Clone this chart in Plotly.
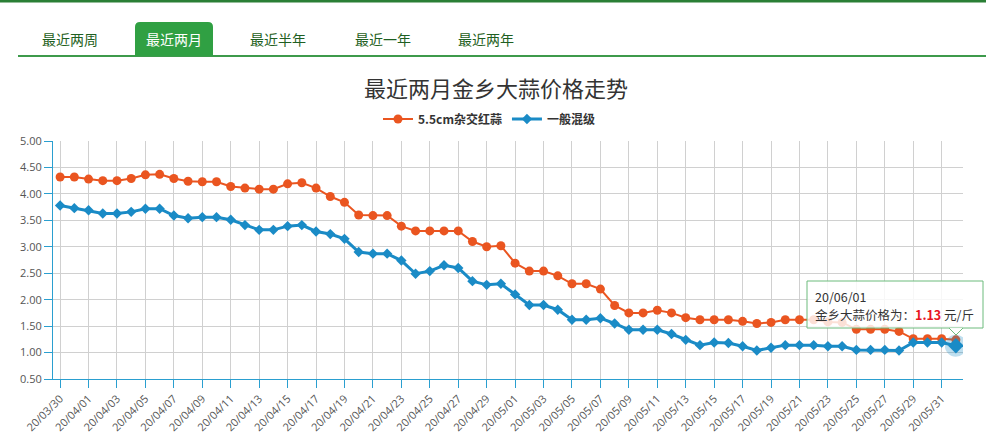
import plotly.graph_objects as go

dates = [
    "20/03/30", "20/03/31", "20/04/01", "20/04/02", "20/04/03", "20/04/04", "20/04/05", "20/04/06",
    "20/04/07", "20/04/08", "20/04/09", "20/04/10", "20/04/11", "20/04/12", "20/04/13", "20/04/14",
    "20/04/15", "20/04/16", "20/04/17", "20/04/18", "20/04/19", "20/04/20", "20/04/21", "20/04/22",
    "20/04/23", "20/04/24", "20/04/25", "20/04/26", "20/04/27", "20/04/28", "20/04/29", "20/04/30",
    "20/05/01", "20/05/02", "20/05/03", "20/05/04", "20/05/05", "20/05/06", "20/05/07", "20/05/08",
    "20/05/09", "20/05/10", "20/05/11", "20/05/12", "20/05/13", "20/05/14", "20/05/15", "20/05/16",
    "20/05/17", "20/05/18", "20/05/19", "20/05/20", "20/05/21", "20/05/22", "20/05/23", "20/05/24",
    "20/05/25", "20/05/26", "20/05/27", "20/05/28", "20/05/29", "20/05/30", "20/05/31", "20/06/01",
]

red_garlic = [
    4.32, 4.32, 4.28, 4.25, 4.25, 4.29, 4.36, 4.37, 4.29, 4.24,
    4.23, 4.23, 4.14, 4.11, 4.09, 4.09, 4.19, 4.21, 4.11, 3.95,
    3.84, 3.60, 3.59, 3.59, 3.39, 3.30, 3.30, 3.30, 3.30, 3.10,
    3.00, 3.02, 2.69, 2.54, 2.54, 2.45, 2.30, 2.30, 2.20, 1.89,
    1.75, 1.75, 1.80, 1.75, 1.66, 1.62, 1.62, 1.62, 1.59, 1.55,
    1.57, 1.62, 1.62, 1.62, 1.58, 1.57, 1.44, 1.44, 1.44, 1.40,
    1.26, 1.26, 1.26, 1.24,
]

mixed_grade = [
    3.78, 3.73, 3.69, 3.63, 3.63, 3.66, 3.72, 3.72, 3.59, 3.54,
    3.56, 3.56, 3.51, 3.41, 3.32, 3.32, 3.39, 3.41, 3.29, 3.24,
    3.15, 2.90, 2.87, 2.87, 2.74, 2.49, 2.54, 2.65, 2.60, 2.35,
    2.28, 2.30, 2.10, 1.90, 1.90, 1.81, 1.62, 1.62, 1.65, 1.55,
    1.43, 1.43, 1.43, 1.35, 1.24, 1.14, 1.19, 1.18, 1.12, 1.04,
    1.09, 1.14, 1.14, 1.14, 1.12, 1.12, 1.05, 1.05, 1.05, 1.04,
    1.19, 1.19, 1.19, 1.13,
]

series_names = ["5.5cm杂交红蒜", "一般混级"]
tabs = ["最近两周", "最近两月", "最近半年", "最近一年", "最近两年"]
title_text = "最近两月金乡大蒜价格走势"
y_ticks = [0.5, 1.0, 1.5, 2.0, 2.5, 3.0, 3.5, 4.0, 4.5, 5.0]

ORANGE = "#ea5520"
BLUE = "#1a8bc6"
FONT = "Noto Sans CJK SC"

W, H = 986, 436
L, R, T, B = 53, 963, 141, 379


def px(x):
    return (x - L) / (R - L)


def py(y):
    return (B - y) / (B - T)


fig = go.Figure()
fig.add_trace(go.Scatter(
    x=dates, y=red_garlic, name=series_names[0], mode="lines+markers",
    line=dict(color=ORANGE, width=2),
    marker=dict(symbol="circle", size=9, color=ORANGE),
))
fig.add_trace(go.Scatter(
    x=dates, y=mixed_grade, name=series_names[1], mode="lines+markers",
    line=dict(color=BLUE, width=3),
    marker=dict(symbol="diamond", size=8, color=BLUE),
))
# hover highlight on last point
fig.add_trace(go.Scatter(
    x=[dates[-1]], y=[mixed_grade[-1]], mode="markers", showlegend=False,
    marker=dict(symbol="circle", size=22, color="rgba(26,139,198,0.28)"),
    hoverinfo="skip",
))
fig.add_trace(go.Scatter(
    x=[dates[-1]], y=[mixed_grade[-1]], mode="markers", showlegend=False,
    marker=dict(symbol="diamond", size=12, color=BLUE),
    hoverinfo="skip",
))

shapes = []
annotations = []

# top dark green bar
shapes.append(dict(type="rect", xref="paper", yref="paper",
                   x0=px(0), x1=px(W), y0=py(0), y1=py(2.5),
                   fillcolor="#2a7f35", line=dict(width=0), layer="above"))
# tabs underline
shapes.append(dict(type="line", xref="paper", yref="paper",
                   x0=px(18), x1=px(W), y0=py(56), y1=py(56),
                   line=dict(color="#3d9a4b", width=2)))
# active tab (rounded top corners)
x0, x1, y0, y1, r = px(135), px(213), py(56), py(22), 5
rx, ry = r / (R - L), r / (B - T)
path = (f"M {x0},{y0} L {x0},{y1 - ry} Q {x0},{y1} {x0 + rx},{y1} "
        f"L {x1 - rx},{y1} Q {x1},{y1} {x1},{y1 - ry} L {x1},{y0} Z")
shapes.append(dict(type="path", xref="paper", yref="paper", path=path,
                   fillcolor="#30a043", line=dict(width=0)))

tab_centers = [70, 174, 278, 383, 486]
for i, (t, cx) in enumerate(zip(tabs, tab_centers)):
    annotations.append(dict(
        text=t, xref="paper", yref="paper", x=px(cx), y=py(39),
        showarrow=False, xanchor="center", yanchor="middle",
        font=dict(family=FONT, size=14, color="#ffffff" if i == 1 else "#1f5f22"),
    ))

# tooltip box + pointer
shapes.append(dict(type="rect", xref="paper", yref="paper",
                   x0=px(807), x1=px(983), y0=py(328), y1=py(281),
                   fillcolor="rgba(255,255,255,0.82)", line=dict(color="#6dbb7c", width=1),
                   layer="above"))
tp = (f"M {px(949)},{py(328)} L {px(956)},{py(335)} L {px(963)},{py(328)}")
shapes.append(dict(type="path", xref="paper", yref="paper", path=tp,
                   fillcolor="rgba(255,255,255,0.9)", line=dict(color="#6dbb7c", width=1), layer="above"))
annotations.append(dict(
    text=dates[-1], xref="paper", yref="paper", x=px(813), y=py(296),
    xanchor="left", yanchor="middle", align="left", showarrow=False,
    font=dict(family=FONT, size=12.5, color="#333333"),
))
annotations.append(dict(
    text=f"金乡大蒜价格为：<span style='color:#e8141e'><b>{mixed_grade[-1]:.2f}</b></span> 元/斤",
    xref="paper", yref="paper", x=px(813), y=py(314),
    xanchor="left", yanchor="middle", align="left", showarrow=False,
    font=dict(family=FONT, size=12.5, color="#333333"),
))

fig.update_layout(
    width=W, height=H,
    margin=dict(l=L, r=W - R, t=T, b=H - B, pad=0, autoexpand=False),
    paper_bgcolor="white", plot_bgcolor="white",
    font=dict(family=FONT, color="#555555"),
    title=dict(text=title_text, x=496 / W, xref="container", xanchor="center",
               y=1 - 89 / H, yref="container", yanchor="middle",
               font=dict(family=FONT, size=22, color="#333333")),
    legend=dict(orientation="h", x=px(489), xanchor="center", y=py(119), yanchor="middle",
                font=dict(family=FONT, size=12, color="#333333", weight="bold"),
                itemwidth=30, traceorder="normal"),
    showlegend=True,
    shapes=shapes,
    annotations=annotations,
    xaxis=dict(
        type="category", range=[-0.5, len(dates) - 0.5], automargin=False,
        tickmode="array", tickvals=dates[::2], ticktext=dates[::2],
        tickangle=-45, tickfont=dict(family="Open Sans", size=11, color="#555555"),
        showgrid=True, gridcolor="#d0d0d0", gridwidth=1,
        showline=True, linecolor="#2a9fd0", linewidth=1,
        ticks="outside", ticklen=8, tickcolor="#2a9fd0",
        zeroline=False, fixedrange=True,
    ),
    yaxis=dict(
        range=[0.5, 5.0], tickmode="array", tickvals=y_ticks, automargin=False,
        ticktext=[f"{v:.2f}" for v in y_ticks],
        tickfont=dict(family="Open Sans", size=11, color="#555555"),
        showgrid=True, gridcolor="#d0d0d0", gridwidth=1,
        showline=True, linecolor="#2a9fd0", linewidth=1,
        ticks="outside", ticklen=8, tickcolor="#2a9fd0",
        zeroline=False, fixedrange=True,
    ),
)

fig.write_html("out.html")
